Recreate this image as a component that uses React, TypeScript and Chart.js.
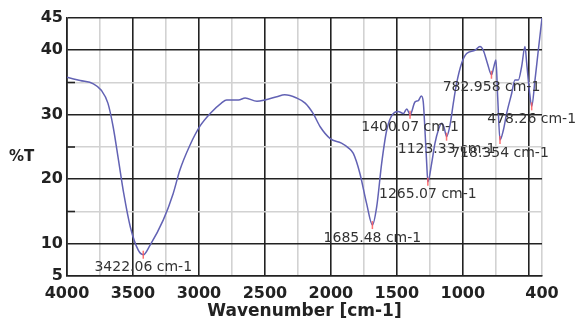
import React, { useEffect, useRef } from "react";
import { Chart, registerables } from "chart.js";

Chart.register(...registerables);

// Spectrum (wavenumber in cm-1, %T)
const wavenumbers = [
  4000, 3900, 3800, 3740, 3690, 3650, 3610, 3570, 3520, 3460, 3422, 3370, 3270, 3195, 3145, 3070, 2990,
  2915, 2830, 2790, 2700, 2650, 2560, 2500, 2410, 2350, 2260, 2195, 2135, 2080, 2005, 1920, 1870, 1830,
  1780, 1730, 1685, 1653, 1615, 1577, 1527, 1490, 1450, 1425, 1400, 1362, 1337, 1315, 1300, 1287, 1274,
  1265, 1236, 1211, 1186, 1160, 1143, 1123, 1097, 1072, 1047, 1009, 971, 908, 870, 845, 814, 783, 764,
  749, 736, 718, 693, 668, 630, 605, 579, 554, 529, 516, 496, 478, 453, 428, 400,
];
const transmittance = [
  35.8, 35.3, 34.8, 33.8, 31.8, 28.1, 23.0, 17.8, 12.6, 9.0, 8.3, 9.8, 13.7, 17.8, 21.4, 25.2, 28.3,
  30.2, 31.8, 32.3, 32.3, 32.6, 32.1, 32.3, 32.8, 33.1, 32.6, 31.8, 30.2, 28.1, 26.3, 25.6, 24.9, 24.0,
  20.9, 16.3, 12.9, 15.7, 22.5, 27.6, 30.2, 30.5, 30.2, 30.9, 30.0, 32.0, 32.2, 32.9, 32.0, 27.6, 22.5,
  19.6, 22.5, 25.6, 27.6, 28.7, 28.1, 26.6, 28.4, 31.8, 34.9, 38.0, 39.5, 40.0, 40.6, 40.0, 38.0, 36.2, 37.5,
  38.5, 32.8, 26.1, 27.6, 30.2, 33.3, 35.4, 35.4, 37.5, 40.6, 38.0, 33.8, 31.3, 35.4, 40.0, 45.0,
];

// Labelled peaks
const peakWavenumbers = [3422.06, 1685.48, 1400.07, 1265.07, 1123.33, 782.958, 718.354, 478.26];
const peakTransmittance = [8.3, 12.9, 30.0, 19.6, 26.6, 36.2, 26.1, 31.3];

// Axes
const xGridValues = [4000, 3750, 3500, 3250, 3000, 2750, 2500, 2250, 2000, 1750, 1500, 1250, 1000, 750, 500, 400];
const xMajorValues = [4000, 3500, 3000, 2500, 2000, 1500, 1000, 500];
const xTickLabels = [4000, 3500, 3000, 2500, 2000, 1500, 1000, 400];
const yGridValues = [5, 10, 15, 20, 25, 30, 35, 40, 45];
const yMajorValues = [5, 10, 20, 30, 40, 45];
const yTickLabels = [5, 10, 20, 30, 40, 45];
const yMinorValues = [15, 25, 35];

const xTitle = "Wavenumber [cm-1]";
const yTitle = "%T";

const BLACK = "#222222";
const GREY = "#d2d2d2";

export default function App() {
  const canvasRef = useRef<HTMLCanvasElement | null>(null);

  useEffect(() => {
    const canvas = canvasRef.current;
    if (!canvas) return;

    const overlay = {
      id: "overlay",
      afterDraw(chart: any) {
        const { ctx, chartArea, scales } = chart;
        const xs = scales.x;
        const ys = scales.y;
        ctx.save();
        // minor ticks on left axis
        ctx.strokeStyle = BLACK;
        ctx.lineWidth = 1.6;
        yMinorValues.forEach((v) => {
          const py = ys.getPixelForValue(v);
          ctx.beginPath();
          ctx.moveTo(chartArea.left, py);
          ctx.lineTo(chartArea.left + 8, py);
          ctx.stroke();
        });
        // peak markers
        peakWavenumbers.forEach((w, i) => {
          const px = xs.getPixelForValue(w);
          const py = ys.getPixelForValue(peakTransmittance[i]);
          ctx.strokeStyle = "rgba(255,90,90,0.85)";
          ctx.lineWidth = 1.5;
          ctx.beginPath();
          ctx.moveTo(px, py - 4);
          ctx.lineTo(px, py + 4);
          ctx.stroke();
          ctx.fillStyle = "#333333";
          ctx.font = "14px 'DejaVu Sans'";
          ctx.textAlign = "center";
          ctx.textBaseline = "middle";
          ctx.fillText(String(w) + " cm-1", px, py + 13);
        });
        // axis titles
        ctx.fillStyle = BLACK;
        ctx.font = "bold 17px 'DejaVu Sans'";
        ctx.textAlign = "center";
        ctx.textBaseline = "middle";
        ctx.fillText(xTitle, (chartArea.left + chartArea.right) / 2, 312);
        ctx.font = "bold 15px 'DejaVu Sans'";
        ctx.textAlign = "left";
        ctx.fillText(yTitle, 9, chartArea.top + (chartArea.bottom - chartArea.top) * 0.54);
        ctx.restore();
      },
    };

    const chart = new Chart(canvas, {
      type: "line",
      data: {
        datasets: [
          {
            data: wavenumbers.map((w, i) => ({ x: w, y: transmittance[i] })),
            borderColor: "#6262b4",
            borderWidth: 1.5,
            pointRadius: 0,
            fill: false,
            cubicInterpolationMode: "monotone",
          },
        ],
      },
      options: {
        responsive: false,
        animation: false,
        events: [],
        layout: { padding: { top: 18, right: 35, bottom: 0, left: 0 } },
        plugins: { legend: { display: false }, tooltip: { enabled: false } },
        scales: {
          x: {
            type: "linear",
            reverse: true,
            min: 400,
            max: 4000,
            afterBuildTicks: (scale: any) => {
              scale.ticks = xGridValues.map((v) => ({ value: v }));
            },
            afterFit: (scale: any) => {
              scale.height = 48;
            },
            ticks: {
              autoSkip: false,
              maxRotation: 0,
              padding: 8,
              color: BLACK,
              font: { family: "'DejaVu Sans'", size: 16, weight: "bold" },
              callback: (value: any) => (xTickLabels.includes(Number(value)) ? String(value) : ""),
            },
            grid: {
              drawTicks: false,
              lineWidth: 1.6,
              color: (c: any) => (c.tick && xMajorValues.includes(c.tick.value) ? BLACK : GREY),
            },
            border: { display: true, color: BLACK, width: 1.6 },
          },
          y: {
            type: "linear",
            min: 5,
            max: 45,
            afterBuildTicks: (scale: any) => {
              scale.ticks = yGridValues.map((v) => ({ value: v }));
            },
            afterFit: (scale: any) => {
              scale.width = 67;
            },
            ticks: {
              autoSkip: false,
              padding: 4,
              color: BLACK,
              font: { family: "'DejaVu Sans'", size: 16, weight: "bold" },
              callback: (value: any) => (yTickLabels.includes(Number(value)) ? String(value) : ""),
            },
            grid: {
              drawTicks: false,
              lineWidth: 1.6,
              color: (c: any) => (c.tick && yMajorValues.includes(c.tick.value) ? BLACK : GREY),
            },
            border: { display: true, color: BLACK, width: 1.6 },
          },
        },
      },
      plugins: [overlay],
    } as any);

    return () => chart.destroy();
  }, []);

  return (
    <div style={{ position: "fixed", left: 0, top: 0, width: 577, height: 324, background: "#ffffff" }}>
      <canvas ref={canvasRef} width={577} height={324} style={{ display: "block" }} />
    </div>
  );
}
